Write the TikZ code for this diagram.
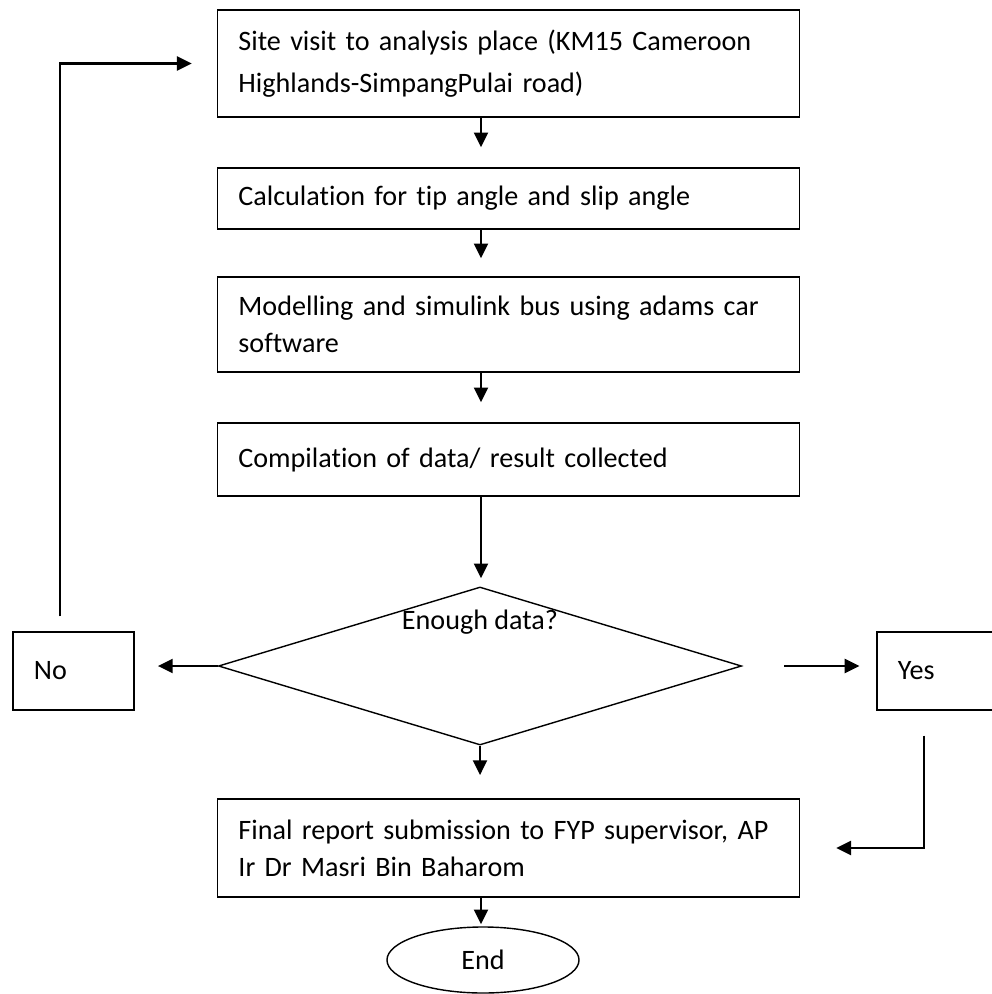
\documentclass[tikz,border=0pt]{standalone}
\usepackage{fontspec}
\setmainfont{Carlito}[Ligatures=NoCommon]
\usetikzlibrary{arrows.meta,shapes.geometric}
\tikzset{
  stepbox/.style={draw,line width=1pt,text width=13.5cm,inner xsep=0.525cm,inner ysep=0pt,align=left},
  smallbox/.style={draw,line width=1pt,text width=1.975cm,inner xsep=0.525cm,inner ysep=0pt,minimum height=1.95cm,align=left},
  arrow/.style={line width=1.5pt,-{Triangle[length=10.5pt,width=10pt]}}
}
\begin{document}
\begin{tikzpicture}[x=0.025cm,y=-0.025cm,font=\fontsize{20}{26.5}\selectfont]
		\useasboundingbox (0,0) rectangle (992,994);
		\coordinate (axis) at (481,0);
		\node[stepbox,minimum height=2.675cm,font=\fontsize{20}{30}\selectfont] (site) at (508.5,63.5) {Site visit to analysis place (KM15 Cameroon\\Highlands-SimpangPulai road)};
		\node[stepbox,minimum height=1.525cm] (calc) at (508.5,198.5) {Calculation for tip angle and slip angle};
		\node[stepbox,minimum height=2.375cm] (model) at (508.5,324.5) {Modelling and simulink bus using adams car\\software};
		\node[stepbox,minimum height=1.825cm] (compile) at (508.5,459.5) {Compilation of data/ result collected};
		\node[draw,diamond,line width=1pt,minimum width=13.075cm,minimum height=3.95cm,inner sep=0pt] (check) at (480,666) {};
		\node (asktext) at ([yshift=1.1cm]check.center) {Enough data?};
		\node[smallbox] (no) at (73.5,671) {No};
		\node[smallbox] (yes) at (937.5,671) {Yes};
		\node[stepbox,minimum height=2.45cm] (final) at (508.5,848) {Final report submission to FYP supervisor, AP\\Ir Dr Masri Bin Baharom};
		\node[draw,ellipse,line width=1pt,minimum width=4.8cm,minimum height=1.65cm,inner sep=0pt] (endnode) at (483,960) {End};
		% main flow
		\draw[arrow,shorten >=0.5cm] (site.south -| axis) -- (calc.north -| axis);
		\draw[arrow,shorten >=0.45cm] (calc.south -| axis) -- (model.north -| axis);
		\draw[arrow,shorten >=0.5cm] (model.south -| axis) -- (compile.north -| axis);
		\draw[arrow,shorten >=0.2cm] (compile.south -| axis) -- (check.north -| axis);
		\draw[arrow,shorten >=0.58cm] (check.south) -- (final.north -| check.south);
		\draw[arrow,shorten >=0.05cm] (final.south -| axis) -- (endnode.north -| axis);
		% decision branches
		\draw[arrow,shorten >=0.58cm] (check.west) -- (check.west -| no.east);
		\draw[arrow,shorten <=1.05cm,shorten >=0.42cm] (check.east) -- (check.east -| yes.west);
		\draw[arrow,shorten <=0.375cm,shorten >=0.625cm] ([xshift=-0.34cm]no.north) |- (site.west);
		\draw[arrow,shorten <=0.625cm,shorten >=0.9cm] ([xshift=-0.34cm]yes.south) |- (final.east);
\end{tikzpicture}
\end{document}
